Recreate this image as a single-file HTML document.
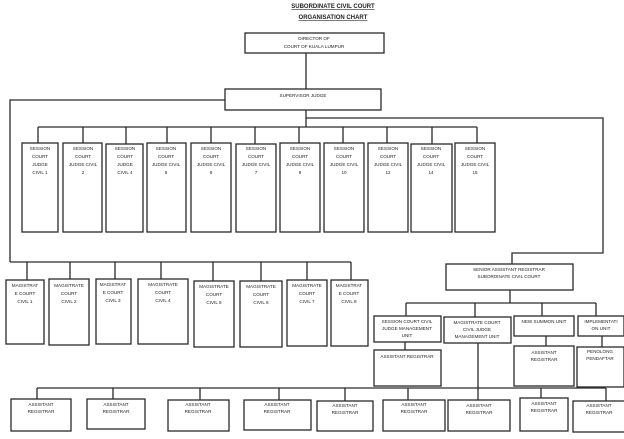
<html><head><style>body{margin:0;background:#fff}svg{display:block}text{font-family:"Liberation Sans",sans-serif;font-size:4.6px;fill:#222;text-anchor:middle}</style></head><body>
<svg width="624" height="439" viewBox="0 0 624 439" xmlns="http://www.w3.org/2000/svg">
<g fill="none" stroke="#2a2a2a" stroke-width="1.3">
<rect x="245" y="33" width="139" height="20"/>
<line x1="306" y1="53" x2="306" y2="89"/>
<rect x="225" y="89" width="156" height="21"/>
<polyline points="225,100 10,100 10,262"/>
<line x1="306" y1="110" x2="306" y2="127"/>
<polyline points="306,118 603,118 603,253 512,253 512,264"/>
<line x1="38" y1="127" x2="477" y2="127"/>
<g>
<line x1="38" y1="127" x2="38" y2="143"/><rect x="22" y="143" width="36" height="89"/>
<line x1="83" y1="127" x2="83" y2="143"/><rect x="63" y="143" width="39" height="89"/>
<line x1="126" y1="127" x2="126" y2="144"/><rect x="106" y="144" width="37" height="88"/>
<line x1="167" y1="127" x2="167" y2="143"/><rect x="147" y="143" width="39" height="89"/>
<line x1="211" y1="127" x2="211" y2="143"/><rect x="191" y="143" width="40" height="89"/>
<line x1="255" y1="127" x2="255" y2="144"/><rect x="236" y="144" width="40" height="88"/>
<line x1="299" y1="127" x2="299" y2="143"/><rect x="280" y="143" width="40" height="89"/>
<line x1="343" y1="127" x2="343" y2="143"/><rect x="324" y="143" width="40" height="89"/>
<line x1="387" y1="127" x2="387" y2="143"/><rect x="368" y="143" width="40" height="89"/>
<line x1="432" y1="127" x2="432" y2="144"/><rect x="411" y="144" width="41" height="88"/>
<line x1="477" y1="127" x2="477" y2="143"/><rect x="455" y="143" width="40" height="89"/>
</g>
<line x1="10" y1="262" x2="351" y2="262"/>
<line x1="27" y1="262" x2="27" y2="280"/><rect x="6" y="280" width="38" height="64"/>
<line x1="70" y1="262" x2="70" y2="279"/><rect x="49" y="279" width="40" height="66"/>
<line x1="115" y1="262" x2="115" y2="279"/><rect x="96" y="279" width="35" height="65"/>
<line x1="161" y1="262" x2="161" y2="279"/><rect x="138" y="279" width="50" height="65"/>
<line x1="213" y1="262" x2="213" y2="281"/><rect x="194" y="281" width="40" height="66"/>
<line x1="261" y1="262" x2="261" y2="281"/><rect x="240" y="281" width="42" height="66"/>
<line x1="307" y1="262" x2="307" y2="280"/><rect x="287" y="280" width="40" height="66"/>
<line x1="351" y1="262" x2="351" y2="280"/><rect x="331" y="280" width="37" height="66"/>
<rect x="446" y="264" width="127" height="26"/>
<line x1="510" y1="290" x2="510" y2="303"/>
<line x1="406" y1="303" x2="596" y2="303"/>
<line x1="406" y1="303" x2="406" y2="316"/><rect x="374" y="316" width="67" height="26"/>
<line x1="475" y1="303" x2="475" y2="317"/><rect x="444" y="317" width="67" height="26"/>
<line x1="542" y1="303" x2="542" y2="316"/><rect x="514" y="316" width="60" height="20"/>
<line x1="596" y1="303" x2="596" y2="316"/><rect x="578" y="316" width="46" height="20"/>
<line x1="405" y1="342" x2="405" y2="350"/><rect x="374" y="350" width="67" height="36"/>
<line x1="546" y1="336" x2="546" y2="346"/><rect x="514" y="346" width="60" height="40"/>
<line x1="602" y1="336" x2="602" y2="347"/><rect x="577" y="347" width="47" height="40"/>
<line x1="478" y1="343" x2="478" y2="400"/>
<line x1="37" y1="388" x2="606" y2="388"/>
<line x1="37" y1="388" x2="37" y2="399"/><rect x="11" y="399" width="60" height="32"/>
<line x1="113" y1="388" x2="113" y2="399"/><rect x="87" y="399" width="58" height="30"/>
<line x1="200" y1="388" x2="200" y2="400"/><rect x="168" y="400" width="61" height="31"/>
<line x1="279" y1="388" x2="279" y2="400"/><rect x="244" y="400" width="67" height="30"/>
<line x1="345" y1="388" x2="345" y2="401"/><rect x="317" y="401" width="56" height="30"/>
<line x1="408" y1="388" x2="408" y2="400"/><rect x="383" y="400" width="62" height="31"/>
<rect x="448" y="400" width="62" height="31"/>
<line x1="541" y1="388" x2="541" y2="398"/><rect x="520" y="398" width="48" height="33"/>
<line x1="606" y1="388" x2="606" y2="401"/><rect x="573" y="401" width="52" height="31"/>
</g>
<text x="333" y="8" style="font-size:6px;font-weight:bold;text-decoration:underline">SUBORDINATE CIVIL COURT</text>
<text x="333" y="19" style="font-size:6px;font-weight:bold;text-decoration:underline">ORGANISATION CHART</text>
<text x="314" y="40">DIRECTOR OF</text><text x="314" y="48">COURT OF KUALA LUMPUR</text>
<text x="303" y="97">SUPERVISOR JUDGE</text>
<g>
<text x="40" y="150">SESSION</text><text x="40" y="158">COURT</text><text x="40" y="166">JUDGE</text><text x="40" y="174">CIVIL 1</text>
<text x="83" y="150">SESSION</text><text x="83" y="158">COURT</text><text x="83" y="166">JUDGE CIVIL</text><text x="83" y="174">2</text>
<text x="125" y="150">SESSION</text><text x="125" y="158">COURT</text><text x="125" y="166">JUDGE</text><text x="125" y="174">CIVIL 4</text>
<text x="166" y="150">SESSION</text><text x="166" y="158">COURT</text><text x="166" y="166">JUDGE CIVIL</text><text x="166" y="174">5</text>
<text x="211" y="150">SESSION</text><text x="211" y="158">COURT</text><text x="211" y="166">JUDGE CIVIL</text><text x="211" y="174">6</text>
<text x="256" y="150">SESSION</text><text x="256" y="158">COURT</text><text x="256" y="166">JUDGE CIVIL</text><text x="256" y="174">7</text>
<text x="300" y="150">SESSION</text><text x="300" y="158">COURT</text><text x="300" y="166">JUDGE CIVIL</text><text x="300" y="174">8</text>
<text x="344" y="150">SESSION</text><text x="344" y="158">COURT</text><text x="344" y="166">JUDGE CIVIL</text><text x="344" y="174">10</text>
<text x="388" y="150">SESSION</text><text x="388" y="158">COURT</text><text x="388" y="166">JUDGE CIVIL</text><text x="388" y="174">12</text>
<text x="431" y="150">SESSION</text><text x="431" y="158">COURT</text><text x="431" y="166">JUDGE CIVIL</text><text x="431" y="174">14</text>
<text x="475" y="150">SESSION</text><text x="475" y="158">COURT</text><text x="475" y="166">JUDGE CIVIL</text><text x="475" y="174">15</text>
</g>
<g>
<text x="25" y="287">MAGISTRAT</text><text x="25" y="295">E COURT</text><text x="25" y="303">CIVIL 1</text>
<text x="69" y="287">MAGISTRATE</text><text x="69" y="295">COURT</text><text x="69" y="303">CIVIL 2</text>
<text x="113" y="286">MAGISTRAT</text><text x="113" y="294">E COURT</text><text x="113" y="302">CIVIL 3</text>
<text x="163" y="286">MAGISTRATE</text><text x="163" y="294">COURT</text><text x="163" y="302">CIVIL 4</text>
<text x="214" y="288">MAGISTRATE</text><text x="214" y="296">COURT</text><text x="214" y="304">CIVIL 5</text>
<text x="261" y="288">MAGISTRATE</text><text x="261" y="296">COURT</text><text x="261" y="304">CIVIL 6</text>
<text x="307" y="287">MAGISTRATE</text><text x="307" y="295">COURT</text><text x="307" y="303">CIVIL 7</text>
<text x="349" y="287">MAGISTRAT</text><text x="349" y="295">E COURT</text><text x="349" y="303">CIVIL 8</text>
</g>
<text x="509" y="271">SENIOR ASSISTANT REGISTRAR</text><text x="509" y="278">SUBORDINATE CIVIL COURT</text>
<text x="407" y="323">SESSION COURT CIVIL</text><text x="407" y="330">JUDGE MANAGEMENT</text><text x="407" y="337">UNIT</text>
<text x="477" y="324">MAGISTRATE COURT</text><text x="477" y="331">CIVIL JUDGE</text><text x="477" y="338">MANAGEMENT UNIT</text>
<text x="544" y="323">NEW SUMMON UNIT</text>
<text x="601" y="323">IMPLEMENTATI</text><text x="601" y="330">ON UNIT</text>
<text x="407" y="358">ASSISTANT REGISTRAR</text>
<text x="544" y="354">ASSISTANT</text><text x="544" y="361">REGISTRAR</text>
<text x="600" y="353">PENOLONG</text><text x="600" y="360">PENDAFTAR</text>
<g>
<text x="41" y="406">ASSISTANT</text><text x="41" y="413">REGISTRAR</text>
<text x="116" y="406">ASSISTANT</text><text x="116" y="413">REGISTRAR</text>
<text x="198" y="406">ASSISTANT</text><text x="198" y="413">REGISTRAR</text>
<text x="277" y="406">ASSISTANT</text><text x="277" y="413">REGISTRAR</text>
<text x="345" y="407">ASSISTANT</text><text x="345" y="414">REGISTRAR</text>
<text x="414" y="406">ASSISTANT</text><text x="414" y="413">REGISTRAR</text>
<text x="479" y="407">ASSISTANT</text><text x="479" y="414">REGISTRAR</text>
<text x="544" y="405">ASSISTANT</text><text x="544" y="412">REGISTRAR</text>
<text x="599" y="407">ASSISTANT</text><text x="599" y="414">REGISTRAR</text>
</g>
</svg></body></html>
